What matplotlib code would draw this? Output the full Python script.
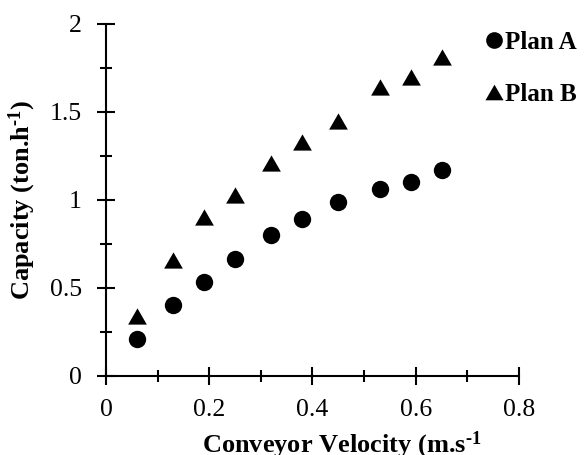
"""Conveyor capacity versus belt velocity for the two plans."""

import matplotlib

matplotlib.use("Agg")
import matplotlib.pyplot as plt
from matplotlib.ticker import MultipleLocator

velocity = [0.06, 0.13, 0.19, 0.25, 0.32, 0.38, 0.45, 0.53, 0.59, 0.65]
capacity_a = [0.21, 0.40, 0.53, 0.665, 0.80, 0.89, 0.99, 1.06, 1.10, 1.17]
capacity_b = [0.34, 0.66, 0.90, 1.03, 1.21, 1.33, 1.45, 1.64, 1.70, 1.81]
x_ticks = [0, 0.2, 0.4, 0.6, 0.8]
x_tick_labels = ["0", "0.2", "0.4", "0.6", "0.8"]
y_ticks = [0, 0.5, 1, 1.5, 2]
y_tick_labels = ["0", "0.5", "1", "1.5", "2"]
series_names = ["Plan A", "Plan B"]

plt.rcParams["font.family"] = ["Liberation Serif", "DejaVu Serif"]
plt.rcParams["mathtext.fontset"] = "custom"
plt.rcParams["mathtext.rm"] = "Liberation Serif:bold"
plt.rcParams["mathtext.bf"] = "Liberation Serif:bold"
plt.rcParams["mathtext.it"] = "Liberation Serif:bold"

# equilateral triangle, centred on its bounding box
TRIANGLE = [(-1.0, -0.866), (1.0, -0.866), (0.0, 0.866)]

fig = plt.figure(figsize=(5.84, 4.55), dpi=100)
axis = fig.add_axes([0.1815, 0.1743, 0.7072, 0.773])

axis.plot(velocity, capacity_a, "o", color="black", markersize=12.5,
          markeredgewidth=0, clip_on=False)
axis.plot(velocity, capacity_b, marker=TRIANGLE, linestyle="none",
          color="black", markersize=13.5, markeredgewidth=0, clip_on=False)

axis.set_xlim(0, 0.8)
axis.set_ylim(0, 2)
axis.set_xticks(x_ticks)
axis.set_xticklabels(x_tick_labels)
axis.set_yticks(y_ticks)
axis.set_yticklabels(y_tick_labels)
axis.xaxis.set_minor_locator(MultipleLocator(0.1))
axis.yaxis.set_minor_locator(MultipleLocator(0.25))

axis.spines[["top", "right"]].set_visible(False)
for side in ("left", "bottom"):
    axis.spines[side].set_linewidth(1.5)
axis.tick_params(which="major", direction="inout", length=13, width=1.5,
                 labelsize=18.5)
axis.tick_params(which="minor", direction="inout", length=8.5, width=1.5)
axis.tick_params(axis="y", which="major", pad=11)
axis.tick_params(axis="x", which="major", pad=10)

axis.set_xlabel("Conveyor Velocity (m.s$^{\\text{-1}}$", fontsize=19,
                fontweight="bold")
axis.xaxis.set_label_coords(0.571, -0.218)
axis.xaxis.label.set_verticalalignment("baseline")
axis.set_ylabel("Capacity (ton.h$^{\\text{-1}}$)", fontsize=19,
                fontweight="bold")
axis.yaxis.set_label_coords(-0.203, 0.5)
axis.yaxis.label.set_verticalalignment("center")

# legend drawn as plain marks and text in the top right corner
legend_y = [1 - 40 / 455, 1 - 92 / 455]
fig.lines.append(plt.Line2D([494 / 584], [legend_y[0]], marker="o",
                            color="black", markersize=12, markeredgewidth=0,
                            transform=fig.transFigure))
fig.lines.append(plt.Line2D([494 / 584], [legend_y[1]], marker=TRIANGLE,
                            color="black", markersize=13, markeredgewidth=0,
                            transform=fig.transFigure))
for name, y in zip(series_names, legend_y):
    fig.text(505 / 584, y, name, fontsize=18, fontweight="bold",
             va="center_baseline", ha="left")

fig.savefig("out.png", dpi=100)
